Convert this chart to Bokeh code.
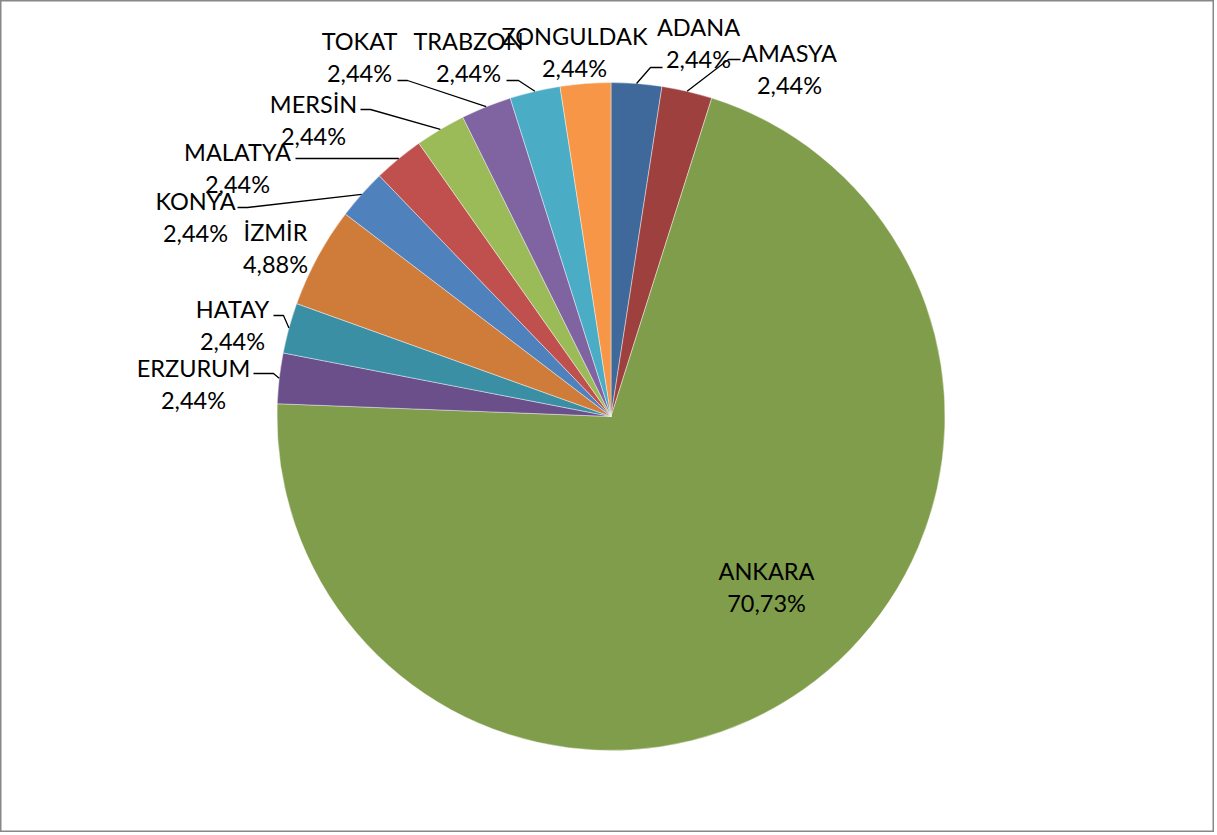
import math
from bokeh.plotting import figure
from bokeh.models import Range1d, ColumnDataSource
from bokeh.core.properties import value
from bokeh.embed import file_html
from bokeh.resources import INLINE

# ---- data ----
cities = ["ADANA", "AMASYA", "ANKARA", "ERZURUM", "HATAY", "İZMİR",
          "KONYA", "MALATYA", "MERSİN", "TOKAT", "TRABZON", "ZONGULDAK"]
counts = [1, 1, 29, 1, 1, 2, 1, 1, 1, 1, 1, 1]

# ---- styles ----
colors = ["#3F699B", "#9E413E", "#7F9D4A", "#6A4F8B", "#3A8FA5", "#CF7C3A",
          "#4F81BD", "#C0504D", "#9BBB59", "#8064A2", "#4BACC6", "#F79646"]

# ---- layout (screen px of reference) ----
W, H = 1214, 832
CX, CY, R = 610.5, 416.0, 334.0
# centre of the name line of each label (percentage line is below it)
label_pos = [(698, 26), (789, 52), (766, 570), (193, 367), (232, 308), (275, 231),
             (195, 200), (237, 151), (313, 103), (359, 40), (468, 40), (574, 35)]
line_gap = 32
# leader line: elbow point and end point (None = no leader)
leaders = [((650, 67), (662, 67)), ((728, 59), (740, 59)), None,
           ((273, 373), (253, 373)), ((283, 315), (273, 315)), None,
           ((247, 207), (237, 207)), ((398, 158), (295, 158)),
           ((370, 109), (360, 109)), ((407, 80), (397, 80)),
           ((518, 80), (506, 80)), None]


def fx(sx):
    return sx


def fy(sy):
    return H - sy


total = sum(counts)
starts, ends, mids, pcts = [], [], [], []
cum = 0
for c in counts:
    a0 = math.pi / 2 - 2 * math.pi * cum / total
    cum += c
    a1 = math.pi / 2 - 2 * math.pi * cum / total
    starts.append(a0)
    ends.append(a1)
    mids.append((a0 + a1) / 2)
    pcts.append(("%.2f" % (c / total * 100)).replace(".", ",") + "%")

p = figure(width=W, height=H, output_backend="svg", toolbar_location=None,
           x_range=Range1d(0, W), y_range=Range1d(0, H),
           x_axis_location=None, y_axis_location=None, min_border=0,
           background_fill_color="white", border_fill_color="white")
p.grid.visible = False
p.outline_line_color = "#888888"
p.outline_line_width = 2

src = ColumnDataSource(dict(start=starts, end=ends, color=colors, city=cities))
p.wedge(x=fx(CX), y=fy(CY), radius=R, start_angle="start", end_angle="end",
        direction="clock", fill_color="color", line_color="white",
        line_width=0.6, line_alpha=0.7, source=src)

# leader lines
xs, ys = [], []
for m, ld in zip(mids, leaders):
    if ld is None:
        continue
    ax = CX + R * math.cos(m)
    ay = CY - R * math.sin(m)
    (ex, ey), (tx, ty) = ld
    xs.append([fx(ax), fx(ex), fx(tx)])
    ys.append([fy(ay), fy(ey), fy(ty)])
p.multi_line(xs=xs, ys=ys, line_color="black", line_width=1.3)

# labels
nx = [fx(x) for x, y in label_pos]
ny = [fy(y) for x, y in label_pos]
py = [fy(y + line_gap) for x, y in label_pos]
p.text(x=nx, y=ny, text=cities, text_font=value("Lato"), text_font_size="23.5px",
       text_align="center", text_baseline="middle", text_color="black")
p.text(x=nx, y=py, text=pcts, text_font=value("Lato"), text_font_size="23.5px",
       text_align="center", text_baseline="middle", text_color="black")

open("out.html", "w").write(file_html(p, INLINE))
